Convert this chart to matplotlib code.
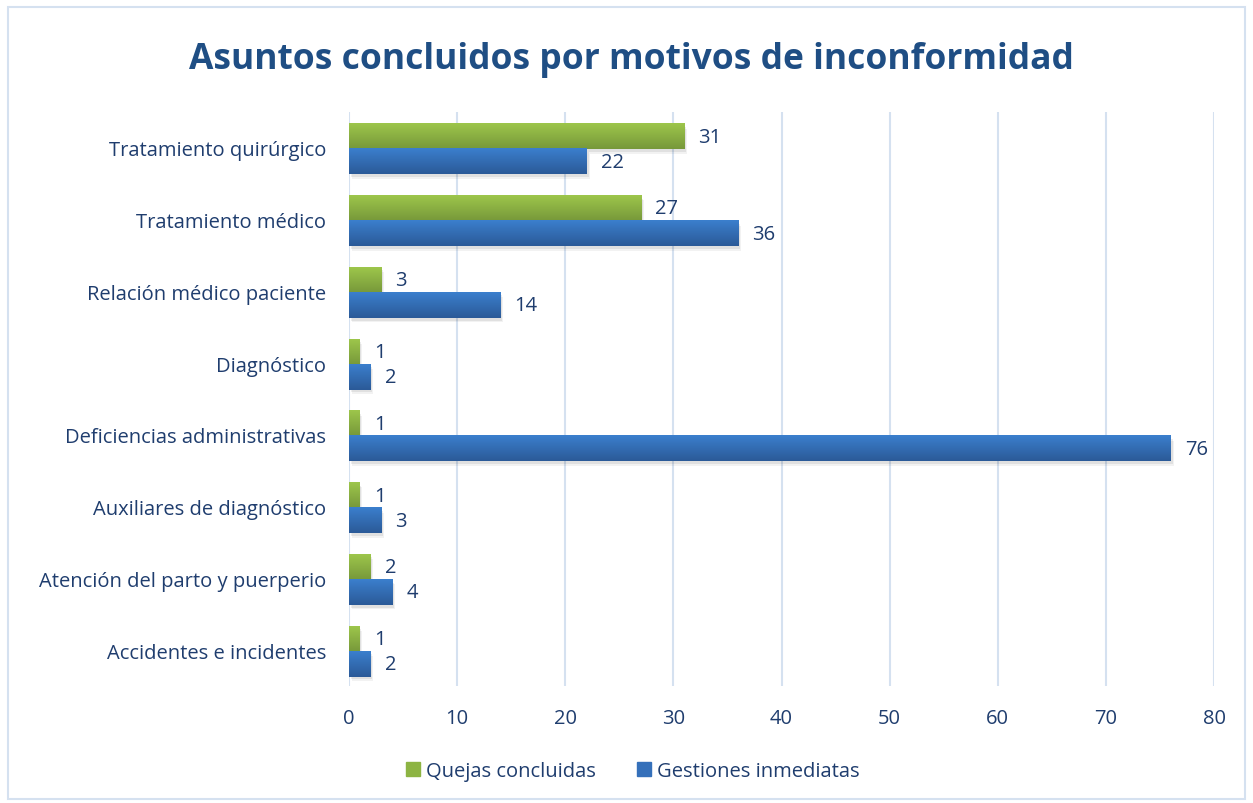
import numpy as np
import matplotlib
matplotlib.use("Agg")
import matplotlib.pyplot as plt
from matplotlib.colors import LinearSegmentedColormap
from matplotlib.patches import Rectangle

# datos del grafico
categorias = ["Tratamiento quirúrgico", "Tratamiento médico", "Relación médico paciente",
              "Diagnóstico", "Deficiencias administrativas", "Auxiliares de diagnóstico",
              "Atención del parto y puerperio", "Accidentes e incidentes"]
quejas = [31, 27, 3, 1, 1, 1, 2, 1]
gestiones = [22, 36, 14, 2, 76, 3, 4, 2]
ticks_x = [0, 10, 20, 30, 40, 50, 60, 70, 80]

azul_txt = "#1F3D6E"
plt.rcParams['font.family'] = ['Open Sans', 'DejaVu Sans']

fig = plt.figure(figsize=(12.53, 8.04), dpi=100)
ax = fig.add_axes([0.2785, 0.1455, 0.6905, 0.714])

y = np.arange(len(categorias))
h = 0.35
b_q = ax.barh(y - h / 2 + 0.02, quejas, height=h, color="#8DB443", zorder=3)
b_g = ax.barh(y + h / 2 + 0.02, gestiones, height=h, color="#3570BA", zorder=3)

# degradado vertical + sombra ligera
cm_verde = LinearSegmentedColormap.from_list("v", ["#9DC64B", "#77983A"])
cm_azul = LinearSegmentedColormap.from_list("a", ["#3B7FCD", "#2B5A98"])
grad = np.linspace(0, 1, 64).reshape(-1, 1)
for bars, cmap in ((b_q, cm_verde), (b_g, cm_azul)):
    for p in bars:
        x0, y0 = p.get_x(), p.get_y()
        w, hh = p.get_width(), p.get_height()
        for k, a in ((0.25, 0.05), (0.15, 0.07)):
            sombra = Rectangle((x0 + k, y0 + k / 4), w, hh, color="#000000",
                               alpha=a, zorder=2, lw=0)
            ax.add_patch(sombra)
        ax.imshow(grad, cmap=cmap, aspect="auto", zorder=4,
                  extent=(x0, x0 + w, y0 + hh, y0), interpolation="bicubic")

for bars, vals in ((b_q, quejas), (b_g, gestiones)):
    for p, v in zip(bars, vals):
        ax.text(p.get_width() + 1.3, p.get_y() + p.get_height() / 2, str(v),
                va="center", ha="left", fontsize=14.5, color=azul_txt, zorder=5)

ax.set_xlim(0, 80)
ax.set_ylim(len(categorias) - 0.5, -0.5)
ax.set_xticks(ticks_x)
ax.set_yticks(y)
ax.set_yticklabels(categorias)
ax.tick_params(axis="both", length=0, labelsize=14.5, colors=azul_txt)
ax.tick_params(axis="x", pad=16)
ax.tick_params(axis="y", pad=16.5)
ax.grid(axis="x", color="#D5E1F0", lw=1.5, zorder=0)
ax.set_axisbelow(True)
for s in ax.spines.values():
    s.set_visible(False)

fig.suptitle("Asuntos concluidos por motivos de inconformidad", x=0.504, y=0.948,
             fontsize=25.5, fontweight="bold", color="#1F4E84")

handles = [Rectangle((0, 0), 1, 1, color="#8DB443"), Rectangle((0, 0), 1, 1, color="#3570BA")]
fig.legend(handles, ["Quejas concluidas", "Gestiones inmediatas"], loc="center",
           bbox_to_anchor=(0.505, 0.04), ncol=2, frameon=False, fontsize=14.5,
           labelcolor=azul_txt, handlelength=0.7, handleheight=0.7,
           handletextpad=0.3, columnspacing=2.0)

fig.add_artist(Rectangle((0.0065, 0.005), 0.987, 0.985, transform=fig.transFigure,
                         fill=False, edgecolor="#D5E1F0", lw=1.5))

fig.savefig("out.png", dpi=100)
